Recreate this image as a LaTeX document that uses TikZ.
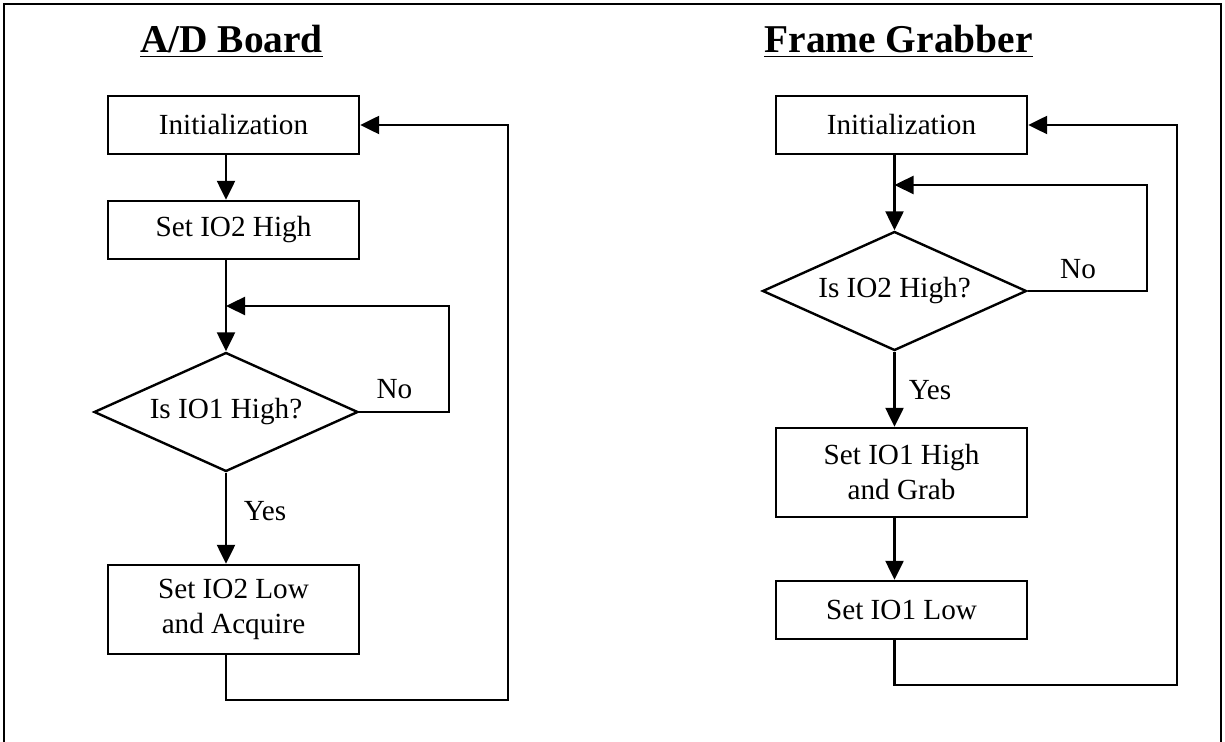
\documentclass[tikz,border=0pt]{standalone}
\usepackage{fontspec}
\setmainfont{Liberation Serif}
\usetikzlibrary{shapes.geometric,arrows.meta}

\begin{document}
\begin{tikzpicture}[>={Triangle[length=9.5pt,width=9pt]},x=0.5pt,y=-0.5pt,line width=1.2pt,
    font=\fontsize{14.6}{17.5}\selectfont,
    box/.style={draw,rectangle,minimum width=125.5pt,align=center,inner sep=0pt},
    test/.style={draw,diamond,shape aspect=2.2,minimum width=132pt,minimum height=59.5pt,inner sep=0pt},
    title/.style={anchor=base,font=\fontsize{19.7}{24}\selectfont\bfseries}]
    \useasboundingbox (0,0) rectangle (1225,742);
    \clip (0,0) rectangle (1225,742);
    % outer frame, bottom edge runs off the page
    \draw[line width=1.4pt] (4,4) rectangle (1221,770);

    % A/D board side
    \node[title] (adtitle) at (231.5,53) {\underline{A/D Board}};
    \node[box,minimum height=29pt] (a1) at (233.5,125) {Initialization};
    \node[box,minimum height=29pt] (a2) at (233.5,230) {Set IO2 High};
    \node[test] (a3) at (226,412) {Is IO1 High?};
    \node[box,minimum height=44.5pt] (a4) at (233.5,609.5) {Set IO2 Low\\and Acquire};
    \node[anchor=base] (a3no) at (394.5,399) {No};
    \node[anchor=base] (a3yes) at (265,521) {Yes};
    \coordinate (a3loop) at (449,306);
    \coordinate (a4loop) at (508,700);
    \draw[->] (a1.south -| a3.north) -- (a2.north -| a3.north);
    \draw[->] (a2.south -| a3.north) -- (a3.north);
    \draw[->] (a3.east) -| (a3loop) -- (a3loop -| a3.north);
    \draw[->] (a3.south) -- (a4.north -| a3.south);
    \draw[->] (a4.south -| a3.south) |- (a4loop) |- (a1.east);

    % frame grabber side
    \node[title] (fgtitle) at (898.5,53) {\underline{Frame Grabber}};
    \node[box,minimum height=29pt] (b1) at (901.5,125) {Initialization};
    \node[test] (b2) at (894.5,291) {Is IO2 High?};
    \node[box,minimum height=44.5pt] (b3) at (901.5,472.5) {Set IO1 High\\and Grab};
    \node[box,minimum height=29pt] (b4) at (901.5,610) {Set IO1 Low};
    \node[anchor=base] (b2no) at (1078,279) {No};
    \node[anchor=base] (b2yes) at (930,400) {Yes};
    \coordinate (b2loop) at (1147,185);
    \coordinate (b4loop) at (1177,685);
    \draw[->] (b1.south -| b2.north) -- (b2.north);
    \draw[->] (b2.east) -| (b2loop) -- (b2loop -| b2.north);
    \draw[->] (b2.south) -- (b3.north -| b2.south);
    \draw[->] (b3.south -| b2.south) -- (b4.north -| b2.south);
    \draw[->] (b4.south -| b2.south) |- (b4loop) |- (b1.east);
\end{tikzpicture}
\end{document}
